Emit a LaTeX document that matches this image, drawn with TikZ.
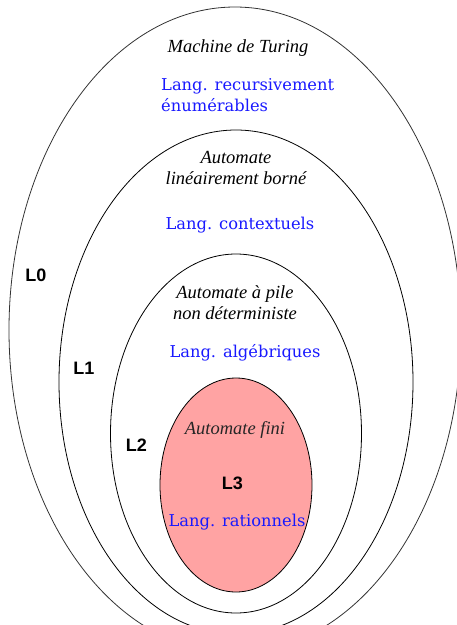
\documentclass[tikz,border=0pt]{standalone}
\usepackage{fontspec}
\usetikzlibrary{shapes.geometric}
\newfontfamily\tfont{Liberation Serif}
\newfontfamily\dfont{DejaVu Serif}
\newfontfamily\afont{Liberation Sans}
\definecolor{langblue}{RGB}{25,25,255}
\definecolor{finpink}{RGB}{255,163,163}
\tikzset{
  ring/.style={ellipse, draw=black, line width=0.8pt, inner sep=0pt},
  machine/.style={font=\tfont\itshape\fontsize{18.5}{21}\selectfont, align=center, inner sep=0pt},
  lang/.style={font=\dfont\fontsize{16.3}{20.5}\selectfont, text=langblue, inner sep=0pt},
  lvl/.style={font=\afont\bfseries\fontsize{18}{20}\selectfont, inner sep=0pt}
}
\begin{document}
\begin{tikzpicture}[x=1pt,y=-1pt]
\useasboundingbox (0,0) rectangle (457,625);
\begin{scope}
\clip (0,0) rectangle (457,625);
\node[ring, draw=black!80, minimum width=452pt, minimum height=646pt] (e0) at (235,330) {};
\node[ring, minimum width=354pt, minimum height=504pt] (e1) at (236,382) {};
\node[ring, minimum width=251pt, minimum height=359pt] (e2) at (236,433.5) {};
\node[ring, fill=finpink, minimum width=152pt, minimum height=214pt] (e3) at (236,485) {};
\end{scope}
\node[machine] (m0) at (238,48) {Machine de Turing};
\node[lang, align=left, anchor=west] (t0) at (161,95) {Lang. recursivement\\énumérables};
\node[machine] (m1) at (236,168) {Automate\\linéairement borné};
\node[lang] (t1) at (240,225) {Lang. contextuels};
\node[lvl] (l0) at (36,275) {L0};
\node[lvl] (l1) at (84,368) {L1};
\node[machine] (m2) at (235,303) {Automate à pile\\non déterministe};
\node[lang] (t2) at (245,353) {Lang. algébriques};
\node[lvl] (l2) at (136.5,445.5) {L2};
\node[machine, text=black!85] (m3) at (235,430) {Automate fini};
\node[lvl] (l3) at (232.5,483) {L3};
\node[lang] (t3) at (237,522) {Lang. rationnels};
\end{tikzpicture}
\end{document}
